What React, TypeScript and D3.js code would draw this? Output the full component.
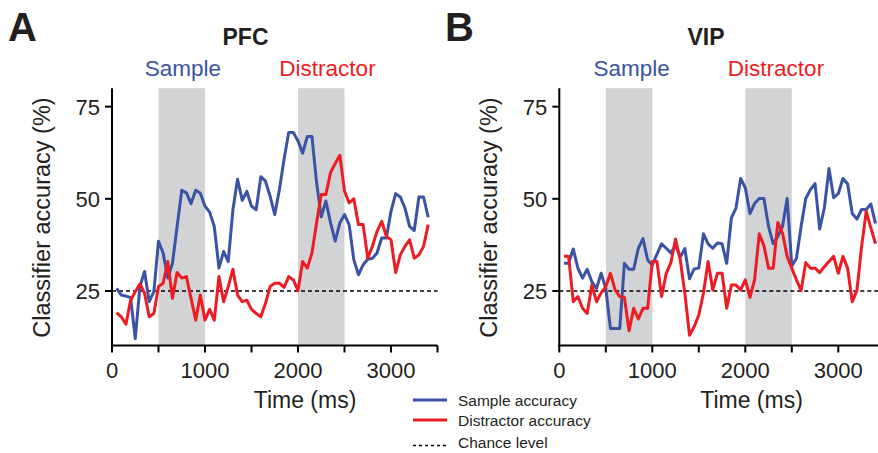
import React from "react";
import * as d3 from "d3";

const times = [50,100,150,200,250,300,350,400,450,500,550,600,650,700,750,800,850,900,950,1000,
1050,1100,1150,1200,1250,1300,1350,1400,1450,1500,1550,1600,1650,1700,1750,1800,1850,1900,1950,2000,
2050,2100,2150,2200,2250,2300,2350,2400,2450,2500,2550,2600,2650,2700,2750,2800,2850,2900,2950,3000,
3050,3100,3150,3200,3250,3300,3350,3400];

const pfcSample = [25.7,23.9,23.6,23.2,12.1,26.2,30.3,22.1,24.8,38.5,35.3,28.5,32.5,42.5,52.3,51.6,48.7,52.3,51.5,48,
46.4,42.5,31.2,35.7,33,47,55.3,49.6,52,48,47,56,54.8,50.7,45.7,52.5,60.7,68,68,65.7,
62.4,66.9,66.9,54.4,45.1,49.4,43.5,38.5,43.5,45.7,43,33.5,29.4,32.1,33.6,33.9,35.3,39.4,39.4,46.6,
51.4,50.5,47.5,42.5,41.4,50.5,50.5,45];

const pfcDistractor = [19.1,18,16,22.5,24.8,26.9,24.4,18,18.9,26.2,27.1,33,23,30,28.5,28.9,23,17.1,23.9,17.1,
20,17.1,28.9,22.1,26.2,30.9,23.9,22.1,22.5,20,18.9,18,21.6,26.2,27.1,27.1,26,28.9,28,25.1,
33,31.2,35.3,43.5,51.2,51.2,57.1,59.6,61.8,52.1,48.9,50,43,43,33.9,37.1,41.2,43.9,39.8,38.9,
30,34.8,37.1,38.9,33.9,34.8,37.1,43];

const vipSample = [32.5,32.5,36.4,31.2,28.5,30.9,27.5,25.7,29.8,25.7,14.8,14.8,14.8,32.5,30.9,30.9,36.6,39.2,33.4,32,
35,37.8,36.6,35.3,37.4,34.2,36.5,28.3,31,31.2,40.5,37.8,36.6,38,37.8,32.5,44.8,47.5,55.5,53,
46,48.7,50.1,50.1,42.5,37.8,39.8,42.5,50.1,31.8,33.9,42.5,50.1,52.5,54.1,41.8,47.5,58.2,50.3,51.4,
55.5,54.1,46,44.5,47.1,47.1,48.6,43.3];

const vipDistractor = [34.4,34.4,22.1,23.5,20.3,18.9,26.6,22.1,24.5,26.2,29.8,25.3,23.5,23.3,14.2,20.3,17.4,20.3,20.3,33,
33,23.5,29.8,32.7,39.1,33.5,24.4,13,15.3,18.5,24.4,33,25.3,29.8,29.8,20.3,26.6,26.6,25.3,28,
23.3,28,40.5,37.3,31.2,31.2,43.6,40.7,34.4,31.2,28,25.1,32.7,31.2,31.2,30,31.6,33,34.4,29.8,
34.4,31.2,22.1,25.1,36.9,46.6,42.1,37.8];

const xTicks = [0,500,1000,1500,2000,2500,3000,3500];
const xTickLabels = [0,1000,2000,3000];
const yTicks = [25,50,75];
const bands = [[500,1000],[2000,2500]];
const chance = 25;

const BLUE = "#3a53a4";
const RED = "#ed1c24";
const TEXT = "#231f20";
const FONT = "'Liberation Sans', Arial, Helvetica, sans-serif";

type PanelProps = {
  x0: number; letter: string; letterX: number; title: string; titleX: number;
  sampleX: number; distractorX: number; ylabelX: number; timeX: number;
  sample: number[]; distractor: number[]; clipRight: number;
};

function Panel(p: PanelProps) {
  const x = d3.scaleLinear().domain([0, 3500]).range([p.x0, p.x0 + 325.5]);
  const y = d3.scaleLinear().domain([10, 80]).range([346.3, 88.2]);
  const line = d3.line<number>().x((_, i) => x(times[i])).y((d) => y(d));
  const axisY = 345.5;
  const right = Math.min(x(3500), p.clipRight);
  return (
    <g>
      <text x={p.letterX} y={41} fontSize={40} fontWeight="bold" fill={TEXT}>{p.letter}</text>
      <text x={p.titleX} y={45} fontSize={23} fontWeight="bold" fill={TEXT} textAnchor="middle">{p.title}</text>
      <text x={p.sampleX} y={76} fontSize={22.5} fill={BLUE} textAnchor="middle">Sample</text>
      <text x={p.distractorX} y={76} fontSize={22.5} fill={RED} textAnchor="middle">Distractor</text>
      {bands.map((b, i) => (
        <rect key={i} x={x(b[0])} y={y(80)} width={x(b[1]) - x(b[0])} height={axisY - y(80)} fill="#d1d3d4" />
      ))}
      <line x1={x(0)} x2={right} y1={y(chance)} y2={y(chance)} stroke="#000" strokeWidth={1.6} strokeDasharray="4,3" />
      <path d={line(p.sample) || ""} fill="none" stroke={BLUE} strokeWidth={3} strokeLinejoin="round" />
      <path d={line(p.distractor) || ""} fill="none" stroke={RED} strokeWidth={3} strokeLinejoin="round" />
      <line x1={x(0)} x2={x(0)} y1={y(80)} y2={axisY + 1} stroke="#000" strokeWidth={2} />
      <line x1={x(0) - 1} x2={right} y1={axisY} y2={axisY} stroke="#000" strokeWidth={2} />
      {xTicks.map((t) => (
        <line key={t} x1={x(t)} x2={x(t)} y1={axisY} y2={axisY + 7} stroke="#000" strokeWidth={2} />
      ))}
      {xTickLabels.map((t) => (
        <text key={t} x={x(t)} y={378} fontSize={22} fill={TEXT} textAnchor="middle">{t}</text>
      ))}
      {yTicks.map((t) => (
        <g key={t}>
          <line x1={x(0) - 7} x2={x(0)} y1={y(t)} y2={y(t)} stroke="#000" strokeWidth={2} />
          <text x={x(0) - 12} y={y(t) + 8} fontSize={22} fill={TEXT} textAnchor="end">{t}</text>
        </g>
      ))}
      <text x={p.timeX} y={408} fontSize={23} fill={TEXT} textAnchor="middle">Time (ms)</text>
      <text transform={`translate(${p.ylabelX},217.5) rotate(-90)`} fontSize={23.5} fill={TEXT} textAnchor="middle">Classifier accuracy (%)</text>
    </g>
  );
}

export default function App() {
  return (
    <svg width={878} height={453} style={{ position: "absolute", left: 0, top: 0, background: "#fff" }} fontFamily={FONT}>
      <rect width={878} height={453} fill="#fff" />
      <Panel x0={112} letter="A" letterX={8} title="PFC" titleX={245.5} sampleX={183} distractorX={327.5}
        ylabelX={50} timeX={305} sample={pfcSample} distractor={pfcDistractor} clipRight={878} />
      <Panel x0={559.3} letter="B" letterX={445} title="VIP" titleX={706} sampleX={631.7} distractorX={776}
        ylabelX={497} timeX={751.5} sample={vipSample} distractor={vipDistractor} clipRight={878} />
      <g fontSize={15.5} fill={TEXT}>
        <line x1={413} x2={447} y1={400} y2={400} stroke={BLUE} strokeWidth={3} />
        <text x={458} y={405.5}>Sample accuracy</text>
        <line x1={413} x2={447} y1={420} y2={420} stroke={RED} strokeWidth={3} />
        <text x={458} y={425.5}>Distractor accuracy</text>
        <line x1={413} x2={447} y1={445.5} y2={445.5} stroke="#000" strokeWidth={1.6} strokeDasharray="3,3" />
        <text x={458} y={447.5}>Chance level</text>
      </g>
    </svg>
  );
}
